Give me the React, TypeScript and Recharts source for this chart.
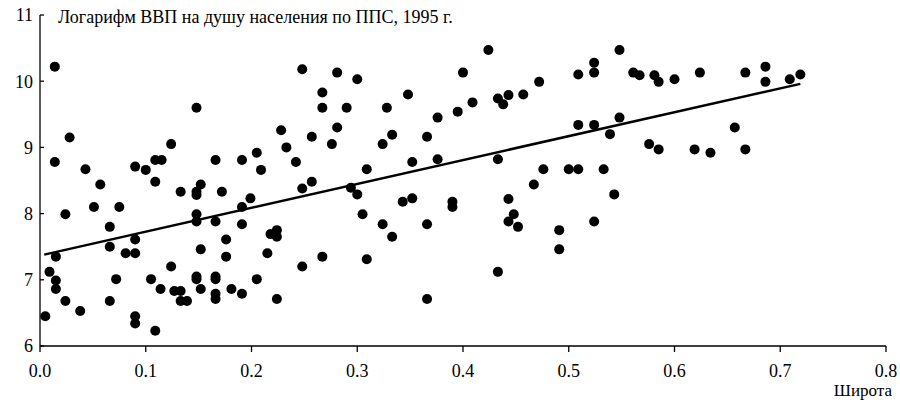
import React from 'react';
import { ScatterChart, Scatter, XAxis, YAxis } from 'recharts';

// Широта (x) и логарифм ВВП на душу (y)
const latitude = [
  0.014, 0.014, 0.028, 0.043, 0.057, 0.148, 0.090, 0.100, 0.109, 0.115,
  0.124, 0.109, 0.133, 0.148, 0.148, 0.152, 0.166, 0.172, 0.191, 0.205,
  0.209, 0.199, 0.228, 0.233, 0.242, 0.248, 0.024, 0.051, 0.075, 0.066,
  0.066, 0.081, 0.090, 0.090, 0.015, 0.009, 0.015, 0.015, 0.024, 0.005,
  0.038, 0.066, 0.072, 0.090, 0.090, 0.109, 0.105, 0.114, 0.124, 0.127,
  0.133, 0.133, 0.139, 0.148, 0.148, 0.152, 0.148, 0.148, 0.152, 0.166,
  0.166, 0.166, 0.166, 0.166, 0.176, 0.176, 0.181, 0.191, 0.191, 0.191,
  0.205, 0.215, 0.218, 0.224, 0.224, 0.224, 0.248, 0.248, 0.257, 0.257,
  0.267, 0.267, 0.276, 0.281, 0.281, 0.290, 0.300, 0.294, 0.300, 0.309,
  0.324, 0.333, 0.328, 0.348, 0.343, 0.352, 0.352, 0.366, 0.376, 0.376,
  0.390, 0.390, 0.395, 0.400, 0.409, 0.424, 0.433, 0.438, 0.443, 0.433,
  0.443, 0.457, 0.467, 0.472, 0.476, 0.500, 0.509, 0.509, 0.509, 0.524,
  0.524, 0.524, 0.305, 0.324, 0.333, 0.366, 0.448, 0.443, 0.452, 0.491,
  0.491, 0.524, 0.267, 0.309, 0.433, 0.366, 0.548, 0.561, 0.567, 0.581,
  0.585, 0.600, 0.624, 0.667, 0.686, 0.686, 0.709, 0.719, 0.548, 0.539,
  0.533, 0.543, 0.576, 0.585, 0.619, 0.634, 0.657, 0.667,
];

const logGdp = [
  10.22, 8.78, 9.15, 8.67, 8.44, 9.60, 8.71, 8.66, 8.81, 8.81,
  9.05, 8.48, 8.33, 8.33, 8.28, 8.44, 8.81, 8.33, 8.81, 8.92,
  8.66, 8.23, 9.26, 9.00, 8.78, 8.38, 7.99, 8.10, 8.10, 7.80,
  7.50, 7.40, 7.40, 7.61, 7.35, 7.12, 6.99, 6.86, 6.68, 6.45,
  6.53, 6.68, 7.01, 6.45, 6.34, 6.23, 7.01, 6.86, 7.20, 6.83,
  6.83, 6.68, 6.68, 7.99, 7.88, 7.46, 7.05, 7.01, 6.86, 7.05,
  7.01, 6.79, 6.71, 7.88, 7.61, 7.35, 6.86, 8.10, 7.84, 6.79,
  7.01, 7.40, 7.69, 7.75, 7.65, 6.71, 7.20, 10.18, 8.48, 9.16,
  9.83, 9.60, 9.05, 9.30, 10.13, 9.60, 10.03, 8.39, 8.29, 8.67,
  9.05, 9.19, 9.60, 9.80, 8.18, 8.23, 8.78, 9.16, 8.82, 9.45,
  8.18, 8.10, 9.54, 10.13, 9.68, 10.47, 9.74, 9.65, 9.79, 8.82,
  8.22, 9.80, 8.44, 9.99, 8.67, 8.67, 8.67, 10.10, 9.34, 10.13,
  10.28, 9.34, 7.99, 7.84, 7.65, 7.84, 7.99, 7.88, 7.80, 7.75,
  7.46, 7.88, 7.35, 7.31, 7.12, 6.71, 10.47, 10.13, 10.09, 10.09,
  9.99, 10.03, 10.13, 10.13, 10.22, 9.99, 10.03, 10.10, 9.45, 9.20,
  8.67, 8.29, 9.05, 8.97, 8.97, 8.92, 9.30, 8.97,
];

// линия регрессии: концы отрезка
const trendX = [0.004, 0.719];
const trendY = [7.38, 9.96];

const xTicks = [0, 0.1, 0.2, 0.3, 0.4, 0.5, 0.6, 0.7, 0.8];
const yTicks = [6, 7, 8, 9, 10, 11];

const points = latitude.map((x, i) => ({ x, y: logGdp[i] }));
const trend = trendX.map((x, i) => ({ x, y: trendY[i] }));

const font = 'Liberation Serif, serif';

const Dot = (props: any) => <circle cx={props.cx} cy={props.cy} r={5} fill="#000" />;

export default function App() {
  return (
    <div style={{ position: 'absolute', left: 0, top: 0, width: 900, height: 402, background: '#fff' }}>
      <ScatterChart
        width={900}
        height={402}
        margin={{ top: 15, right: 14, left: 0, bottom: 26 }}
      >
        <XAxis
          type="number"
          dataKey="x"
          domain={[0, 0.8]}
          ticks={xTicks}
          tickFormatter={(v: number) => v.toFixed(1)}
          height={30}
          tickSize={6}
          tickMargin={12}
          stroke="#000"
          strokeWidth={1.3}
          tick={{ fill: '#000', fontSize: 18, fontFamily: font }}
          allowDataOverflow
        />
        <YAxis
          type="number"
          dataKey="y"
          domain={[6, 11]}
          ticks={yTicks}
          width={40}
          tickSize={-4}
          tickMargin={11}
          stroke="#000"
          strokeWidth={1.3}
          tick={{ fill: '#000', fontSize: 18, fontFamily: font }}
          allowDataOverflow
        />
        <Scatter data={points} shape={Dot} isAnimationActive={false} />
        <Scatter
          data={trend}
          line={{ stroke: '#000', strokeWidth: 2.5 }}
          shape={() => null}
          isAnimationActive={false}
        />
      </ScatterChart>
      <div style={{ position: 'absolute', left: 58, top: 7, fontFamily: font, fontSize: 18, color: '#000', whiteSpace: 'nowrap' }}>
        Логарифм ВВП на душу населения по ППС, 1995 г.
      </div>
      <div style={{ position: 'absolute', right: 8, top: 382, fontFamily: font, fontSize: 17, lineHeight: 1, color: '#000', whiteSpace: 'nowrap' }}>
        Широта
      </div>
    </div>
  );
}
